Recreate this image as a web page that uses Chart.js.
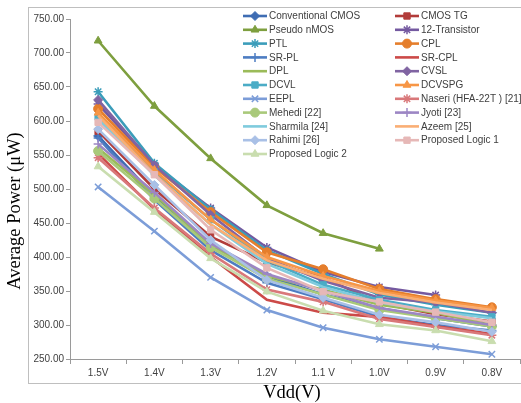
<!DOCTYPE html>
<html><head><meta charset="utf-8">
<script src="https://cdn.jsdelivr.net/npm/chart.js@4.4.1/dist/chart.umd.min.js"></script>
<style>html,body{margin:0;padding:0;background:#fff;overflow:hidden;width:521px;height:403px}
#wrap{position:absolute;left:0;top:0;width:526px;height:403px}</style>
</head><body><div id="wrap"><canvas id="c" width="526" height="403"></canvas></div>
<script>
const categories = ['1.5V','1.4V','1.3V','1.2V','1.1 V','1.0V','0.9V','0.8V'];
const yTicks = [250,300,350,400,450,500,550,600,650,700,750];

const conventionalCMOS = [578, 490, 418, 372, 345, 325, 310, 298];
const cmosTG          = [585, 500, 430, 392, 370, 332, 316, 305];
const pseudoNMOS      = [718, 622, 545, 476, 435, 412, null, null];
const transistor12    = [625, 535, 472, 414, 378, 356, 344, null];
const ptl             = [643, 538, 470, 410, 375, 345, 330, 318];
const cpl             = [618, 532, 466, 407, 382, 353, 338, 326];
const srPL            = [575, 484, 410, 362, 338, 312, 300, 292];
const srCPL           = [552, 470, 400, 337, 318, 312, 298, 287];
const dpl             = [560, 492, 418, 372, 352, 330, 318, 300];
const cvsl            = [631, 535, 462, 398, 365, 340, 333, 318];
const dcvl            = [606, 525, 455, 395, 359, 337, 322, 312];
const dcvspg          = [612, 528, 455, 400, 372, 350, 336, 325];
const eepl            = [503, 438, 370, 322, 296, 279, 268, 257];
const naseri          = [546, 472, 405, 352, 334, 309, 297, 285];
const mehedi          = [556, 486, 414, 368, 345, 322, 310, 298];
const jyoti           = [566, 495, 420, 375, 350, 325, 312, 300];
const sharmila        = [603, 520, 448, 390, 356, 333, 320, 310];
const azeem           = [608, 522, 448, 395, 368, 347, 333, 322];
const rahimi          = [588, 506, 425, 366, 340, 315, 304, 290];
const proposedLogic1  = [598, 521, 440, 384, 349, 334, 319, 304];
const proposedLogic2  = [533, 466, 398, 349, 321, 301, 292, 276];

const seriesNames = ['Conventional CMOS','CMOS TG','Pseudo nMOS','12-Transistor','PTL','CPL','SR-PL','SR-CPL','DPL','CVSL','DCVL','DCVSPG','EEPL','Naseri (HFA-22T ) [21]','Mehedi [22]','Jyoti [23]','Sharmila [24]','Azeem [25]','Rahimi [26]','Proposed Logic 1','Proposed Logic 2'];
const seriesValues = [conventionalCMOS,cmosTG,pseudoNMOS,transistor12,ptl,cpl,srPL,srCPL,dpl,cvsl,dcvl,dcvspg,eepl,naseri,mehedi,jyoti,sharmila,azeem,rahimi,proposedLogic1,proposedLogic2];
const seriesColors = ['#3F6DB3','#B23C3A','#7E9F3F','#7459A0','#3B9DBA','#E57E2C','#4D7DC2','#CC4A48','#9BBB59','#8064A2','#4BACC6','#F79646','#7C9DD8','#D9787A','#A9C97A','#9C86C4','#7FCBDD','#FAAE74','#A9C0E6','#E6B8B7','#C9DDAF'];
const seriesMarkers = ['rectRot','rect','triangle','star','star','circle','cross',null,null,'rectRot','rect','triangle','crossRot','star','circle','cross',null,null,'rectRot','rect','triangle'];

const N = seriesNames.length;
const datasets = seriesNames.map((n,i)=>({
  label:n, data:seriesValues[i], borderColor:seriesColors[i], backgroundColor:seriesColors[i],
  borderWidth:2.6, tension:0, spanGaps:false,
  pointStyle: seriesMarkers[i]||'circle', pointRadius: seriesMarkers[i]?4.5:0,
  pointBorderWidth: (seriesMarkers[i]==='star'||seriesMarkers[i]==='cross'||seriesMarkers[i]==='crossRot')?1.5:1,
  pointBorderColor: seriesColors[i], pointBackgroundColor: seriesColors[i],
  order: N - i
}));

const decor = {
  id:'decor',
  beforeDraw(chart){
    const ctx = chart.ctx;
    ctx.save();
    ctx.fillStyle='#fff'; ctx.fillRect(0,0,chart.width,chart.height);
    ctx.strokeStyle='#BFBFBF'; ctx.lineWidth=1;
    ctx.strokeRect(28.5,7.5,600,376);
    ctx.restore();
  },
  afterDraw(chart){
    const ctx = chart.ctx;
    ctx.save();
    ctx.fillStyle='#000';
    ctx.font='18.5px "Liberation Serif", "DejaVu Serif", serif';
    ctx.textAlign='center'; ctx.textBaseline='middle';
    ctx.fillText('Vdd(V)', 292, 393);
    ctx.translate(15, 211); ctx.rotate(-Math.PI/2);
    ctx.fillText('Average Power (\u03bcW)', 0, 0);
    ctx.restore();
    ctx.save();
    ctx.font='10px "Liberation Sans", Arial, sans-serif';
    ctx.textAlign='left'; ctx.textBaseline='middle';
    chart.data.datasets.forEach((ds,i)=>{
      const col = i%2, row = Math.floor(i/2);
      const x0 = col===0 ? 243 : 395;
      const y = 16 + row*13.8;
      ctx.strokeStyle = ds.borderColor; ctx.lineWidth = 2.6;
      ctx.beginPath(); ctx.moveTo(x0, y); ctx.lineTo(x0+24, y); ctx.stroke();
      if (seriesMarkers[i]) {
        ctx.fillStyle = ds.backgroundColor; ctx.strokeStyle = ds.borderColor;
        ctx.lineWidth = ds.pointBorderWidth;
        Chart.helpers.drawPoint(ctx, {pointStyle: seriesMarkers[i], radius: 4.5, rotation: 0, borderWidth: ds.pointBorderWidth}, x0+12, y);
      }
      ctx.fillStyle = '#404040';
      ctx.fillText(ds.label, x0+26, y+0.5);
    });
    ctx.restore();
  }
};

new Chart(document.getElementById('c'), {
  type:'line',
  data:{ labels: categories, datasets },
  options:{
    responsive:false, animation:false, devicePixelRatio:1,
    layout:{ padding:{ top:19, right:2, left:0, bottom:0 } },
    plugins:{ legend:{display:false}, tooltip:{enabled:false} },
    scales:{
      x:{
        offset:true,
        grid:{ display:true, offset:true, drawOnChartArea:false, drawTicks:true, tickLength:5, color:'#9A9A9A' },
        border:{ display:true, color:'#9A9A9A', width:1 },
        ticks:{ color:'#404040', font:{ size:10, family:'"Liberation Sans", Arial, sans-serif' }, padding:3, maxRotation:0, autoSkip:false },
        afterFit(s){ s.height = 44; }
      },
      y:{
        min:250, max:750,
        afterBuildTicks(s){ s.ticks = yTicks.map(v=>({value:v})); },
        grid:{ display:true, drawOnChartArea:false, drawTicks:true, tickLength:4, color:'#9A9A9A' },
        border:{ display:true, color:'#9A9A9A', width:1 },
        ticks:{ color:'#404040', font:{ size:10, family:'"Liberation Sans", Arial, sans-serif' }, padding:2, callback:(v)=>Number(v).toFixed(2) },
        afterFit(s){ s.width = 70; }
      }
    }
  },
  plugins:[decor]
});
</script>
</body></html>
